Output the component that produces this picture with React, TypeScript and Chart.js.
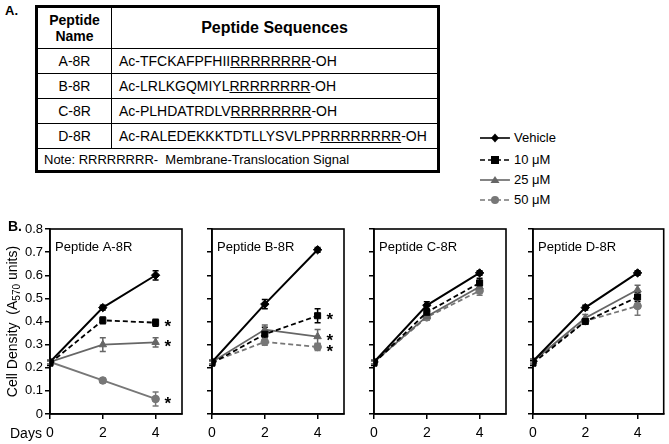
import React, { useEffect, useRef } from "react";
import { Chart, registerables } from "chart.js";
Chart.register(...registerables);

const FONT = "'Liberation Sans', Arial, Helvetica, sans-serif";

// ---- Table data ----
const peptideNames = ["A-8R", "B-8R", "C-8R", "D-8R"];
const seqPrefixes = ["Ac-TFCKAFPFHII", "Ac-LRLKGQMIYL", "Ac-PLHDATRDLV", "Ac-RALEDEKKKTDTLLYSVLPP"];
const signalSeq = "RRRRRRRR";
const seqSuffix = "-OH";
const noteText = "Note: RRRRRRRR-  Membrane-Translocation Signal";

// ---- Chart data ----
const days = [0, 2, 4];
const yTicks = [0, 0.1, 0.2, 0.3, 0.4, 0.5, 0.6, 0.7, 0.8];
const seriesNames = ["Vehicle", "10 \u03bcM", "25 \u03bcM", "50 \u03bcM"];
const panelTitles = ["Peptide A-8R", "Peptide B-8R", "Peptide C-8R", "Peptide D-8R"];

// Panel A
const aVehicle = [0.225, 0.46, 0.6];
const a10 = [0.22, 0.405, 0.395];
const a25 = [0.225, 0.3, 0.31];
const a50 = [0.225, 0.145, 0.065];
const aVehicleErr = [0.01, 0.01, 0.02];
const a10Err = [0.01, 0.015, 0.015];
const a25Err = [0.01, 0.03, 0.02];
const a50Err = [0.01, 0.01, 0.03];
const aStars = [false, true, true, true];
const aDashed = [false, true, false, false];

// Panel B
const bVehicle = [0.225, 0.475, 0.71];
const b10 = [0.22, 0.345, 0.425];
const b25 = [0.225, 0.365, 0.335];
const b50 = [0.225, 0.312, 0.29];
const bVehicleErr = [0.01, 0.02, 0.01];
const b10Err = [0.01, 0.03, 0.03];
const b25Err = [0.01, 0.02, 0.03];
const b50Err = [0.01, 0.015, 0.015];
const bStars = [false, true, true, true];
const bDashed = [false, true, false, true];

// Panel C
const cVehicle = [0.225, 0.47, 0.61];
const c10 = [0.22, 0.44, 0.567];
const c25 = [0.225, 0.422, 0.55];
const c50 = [0.225, 0.418, 0.533];
const cVehicleErr = [0.01, 0.015, 0.01];
const c10Err = [0.01, 0.01, 0.02];
const c25Err = [0.01, 0.015, 0.02];
const c50Err = [0.01, 0.01, 0.02];
const cStars = [false, false, false, false];
const cDashed = [false, true, false, true];

// Panel D
const dVehicle = [0.228, 0.46, 0.61];
const d10 = [0.22, 0.4, 0.506];
const d25 = [0.228, 0.415, 0.537];
const d50 = [0.228, 0.402, 0.467];
const dVehicleErr = [0.01, 0.01, 0.01];
const d10Err = [0.01, 0.01, 0.02];
const d25Err = [0.01, 0.015, 0.02];
const d50Err = [0.01, 0.01, 0.04];
const dStars = [false, false, false, false];
const dDashed = [false, true, false, true];

const panelValues = [
  [aVehicle, a10, a25, a50],
  [bVehicle, b10, b25, b50],
  [cVehicle, c10, c25, c50],
  [dVehicle, d10, d25, d50],
];
const panelErrors = [
  [aVehicleErr, a10Err, a25Err, a50Err],
  [bVehicleErr, b10Err, b25Err, b50Err],
  [cVehicleErr, c10Err, c25Err, c50Err],
  [dVehicleErr, d10Err, d25Err, d50Err],
];
const panelStars = [aStars, bStars, cStars, dStars];
const panelDashed = [aDashed, bDashed, cDashed, dDashed];

// ---- Styles ----
const seriesColors = ["#000000", "#000000", "#666666", "#777777"];
const legendDashed = [false, true, false, true];
const DASH = [5, 3];
const seriesPoint = ["rectRot", "rect", "triangle", "circle"];
const seriesRadius = [4.2, 4.3, 4.3, 3.8];

// panel canvas geometry: left, width, axisWidth, padRight
const panelGeom = [
  { left: 0, width: 190, axis: 50, padRight: 8 },
  { left: 190, width: 162, axis: 22, padRight: 8 },
  { left: 352, width: 162, axis: 22, padRight: 8 },
  { left: 514, width: 155, axis: 19, padRight: 5 },
];
const CANVAS_TOP = 212;
const CANVAS_H = 232;

function Panel({ idx }: { idx: number }) {
  const ref = useRef<HTMLCanvasElement | null>(null);
  const g = panelGeom[idx];
  useEffect(() => {
    if (!ref.current) return;
    const vals = panelValues[idx];
    const errs = panelErrors[idx];
    const stars = panelStars[idx];
    const dashed = panelDashed[idx];
    const first = idx === 0;

    const decor = {
      id: "decor" + idx,
      beforeDatasetsDraw(chart: any) {
        const ctx = chart.ctx;
        const ys = chart.scales.y;
        ctx.save();
        vals.forEach((_s: number[], i: number) => {
          const meta = chart.getDatasetMeta(i);
          ctx.strokeStyle = seriesColors[i];
          ctx.lineWidth = 1.5;
          ctx.setLineDash([]);
          meta.data.forEach((pt: any, j: number) => {
            const v = vals[i][j];
            const e = errs[i][j];
            const y1 = ys.getPixelForValue(v + e);
            const y2 = ys.getPixelForValue(v - e);
            ctx.beginPath();
            ctx.moveTo(pt.x, y1);
            ctx.lineTo(pt.x, y2);
            ctx.moveTo(pt.x - 3, y1);
            ctx.lineTo(pt.x + 3, y1);
            ctx.moveTo(pt.x - 3, y2);
            ctx.lineTo(pt.x + 3, y2);
            ctx.stroke();
          });
        });
        ctx.restore();
      },
      afterDraw(chart: any) {
        const ctx = chart.ctx;
        const a = chart.chartArea;
        ctx.save();
        ctx.strokeStyle = "#000";
        ctx.lineWidth = 1.6;
        ctx.setLineDash([]);
        ctx.strokeRect(a.left, a.top, a.right - a.left, a.bottom - a.top);
        ctx.fillStyle = "#000";
        ctx.font = `13px ${FONT}`;
        ctx.textBaseline = "middle";
        ctx.textAlign = "left";
        ctx.fillText(panelTitles[idx], a.left + 5, a.top + 18);
        // significance stars
        ctx.font = `bold 17px ${FONT}`;
        stars.forEach((s: boolean, i: number) => {
          if (!s) return;
          const meta = chart.getDatasetMeta(i);
          const pt = meta.data[meta.data.length - 1];
          ctx.fillText("*", pt.x + 9, pt.y + 5);
        });
        if (first) {
          ctx.font = `bold 14px ${FONT}`;
          ctx.fillText("B.", 8, 227 - CANVAS_TOP);
          ctx.font = `14px ${FONT}`;
          ctx.fillText("Days", 10, 434 - CANVAS_TOP);
          const cy = (a.top + a.bottom) / 2;
          ctx.translate(13, cy);
          ctx.rotate(-Math.PI / 2);
          const p1 = "Cell Density  (A";
          const p2 = "570";
          const p3 = " units)";
          ctx.font = `14px ${FONT}`;
          const w1 = ctx.measureText(p1).width;
          const w3 = ctx.measureText(p3).width;
          ctx.font = `10px ${FONT}`;
          const w2 = ctx.measureText(p2).width;
          let x = -(w1 + w2 + w3) / 2;
          ctx.font = `14px ${FONT}`;
          ctx.fillText(p1, x, 0);
          x += w1;
          ctx.font = `10px ${FONT}`;
          ctx.fillText(p2, x, 4);
          x += w2;
          ctx.font = `14px ${FONT}`;
          ctx.fillText(p3, x, 0);
        }
        ctx.restore();
      },
    };

    const gridOpts = {
      drawOnChartArea: false,
      drawTicks: true,
      tickLength: 5,
      color: "#000",
      lineWidth: 1.5,
    };
    const borderOpts = { display: true, color: "#000", width: 1.6 };

    const chart = new Chart(ref.current, {
      type: "line",
      data: {
        datasets: vals.map((s: number[], i: number) => ({
          label: seriesNames[i],
          data: days.map((d, j) => ({ x: d, y: s[j] })),
          borderColor: seriesColors[i],
          backgroundColor: seriesColors[i],
          borderWidth: i === 0 ? 2 : 1.8,
          borderDash: dashed[i] ? DASH : [],
          pointStyle: seriesPoint[i] as any,
          pointRadius: seriesRadius[i],
          pointBorderWidth: 1,
          pointBorderColor: seriesColors[i],
          pointBackgroundColor: seriesColors[i],
          fill: false,
          tension: 0,
        })),
      },
      options: {
        animation: false,
        responsive: false,
        maintainAspectRatio: false,
        layout: { padding: { left: 0, right: g.padRight, top: 17, bottom: 0 } },
        plugins: { legend: { display: false }, tooltip: { enabled: false } },
        scales: {
          x: {
            type: "linear",
            min: 0,
            max: 5,
            afterBuildTicks: (s: any) => {
              s.ticks = days.map((v) => ({ value: v }));
            },
            afterFit: (s: any) => {
              s.height = 30;
            },
            grid: gridOpts,
            border: borderOpts,
            ticks: {
              color: "#000",
              font: { family: FONT, size: 14 },
              padding: 6,
              maxRotation: 0,
              autoSkip: false,
            },
          },
          y: {
            type: "linear",
            min: 0,
            max: 0.8,
            afterBuildTicks: (s: any) => {
              s.ticks = yTicks.map((v) => ({ value: v }));
            },
            afterFit: (s: any) => {
              s.width = g.axis;
            },
            grid: gridOpts,
            border: borderOpts,
            ticks: {
              display: first,
              color: "#000",
              font: { family: FONT, size: 13 },
              padding: 2,
              callback: (v: any) => String(+(+v).toFixed(1)),
            },
          },
        },
      } as any,
      plugins: [decor],
    });
    return () => chart.destroy();
  }, [idx]);
  return (
    <canvas
      ref={ref}
      width={g.width}
      height={CANVAS_H}
      style={{ position: "absolute", left: g.left, top: CANVAS_TOP, width: g.width, height: CANVAS_H }}
    />
  );
}

function LegendIcon({ i }: { i: number }) {
  const c = seriesColors[i];
  const dash = legendDashed[i] ? DASH.join(",") : undefined;
  let marker: React.ReactNode = null;
  if (i === 0) marker = <polygon points="15,2.5 19,7 15,11.5 11,7" fill={c} />;
  else if (i === 1) marker = <rect x={11} y={3} width={8} height={8} fill={c} />;
  else if (i === 2) marker = <polygon points="15,3 19.5,10 10.5,10" fill={c} />;
  else marker = <circle cx={15} cy={7} r={4} fill={c} />;
  return (
    <svg width={30} height={14} style={{ position: "absolute", left: 0, top: 0 }}>
      <line x1={0} y1={7} x2={30} y2={7} stroke={c} strokeWidth={1.6} strokeDasharray={dash} />
      {marker}
    </svg>
  );
}

const legendY = [138, 160, 180, 200];

export default function App() {
  const cell: React.CSSProperties = { border: "1.5px solid #000", padding: 0 };
  return (
    <div
      style={{
        position: "absolute",
        left: 0,
        top: 0,
        width: 669,
        height: 444,
        background: "#fff",
        fontFamily: FONT,
        color: "#000",
        overflow: "hidden",
      }}
    >
      <div style={{ position: "absolute", left: 5, top: 3, fontWeight: "bold", fontSize: 13 }}>A.</div>
      <table
        style={{
          position: "absolute",
          left: 35,
          top: 5,
          width: 405,
          borderCollapse: "collapse",
          tableLayout: "fixed",
          border: "3px solid #000",
          fontSize: 14,
        }}
      >
        <colgroup>
          <col style={{ width: 75 }} />
          <col />
        </colgroup>
        <tbody>
          <tr style={{ height: 42 }}>
            <td style={{ ...cell, textAlign: "center", fontWeight: "bold", lineHeight: "16px" }}>
              Peptide
              <br />
              Name
            </td>
            <td style={{ ...cell, textAlign: "center", fontWeight: "bold", fontSize: 16 }}>Peptide Sequences</td>
          </tr>
          {peptideNames.map((n, i) => (
            <tr key={n} style={{ height: 25 }}>
              <td style={{ ...cell, textAlign: "center" }}>{n}</td>
              <td style={{ ...cell, paddingLeft: 7 }}>
                {seqPrefixes[i]}
                <span style={{ textDecoration: "underline" }}>{signalSeq}</span>
                {seqSuffix}
              </td>
            </tr>
          ))}
          <tr style={{ height: 23 }}>
            <td colSpan={2} style={{ ...cell, paddingLeft: 6, fontSize: 13, whiteSpace: "pre" }}>
              {noteText}
            </td>
          </tr>
        </tbody>
      </table>
      {seriesNames.map((n, i) => (
        <div key={n} style={{ position: "absolute", left: 480, top: legendY[i] - 7, height: 14, width: 120 }}>
          <LegendIcon i={i} />
          <span style={{ position: "absolute", left: 34, top: -1, fontSize: 13, lineHeight: "16px", whiteSpace: "nowrap" }}>
            {n}
          </span>
        </div>
      ))}
      {[0, 1, 2, 3].map((i) => (
        <Panel key={i} idx={i} />
      ))}
    </div>
  );
}
